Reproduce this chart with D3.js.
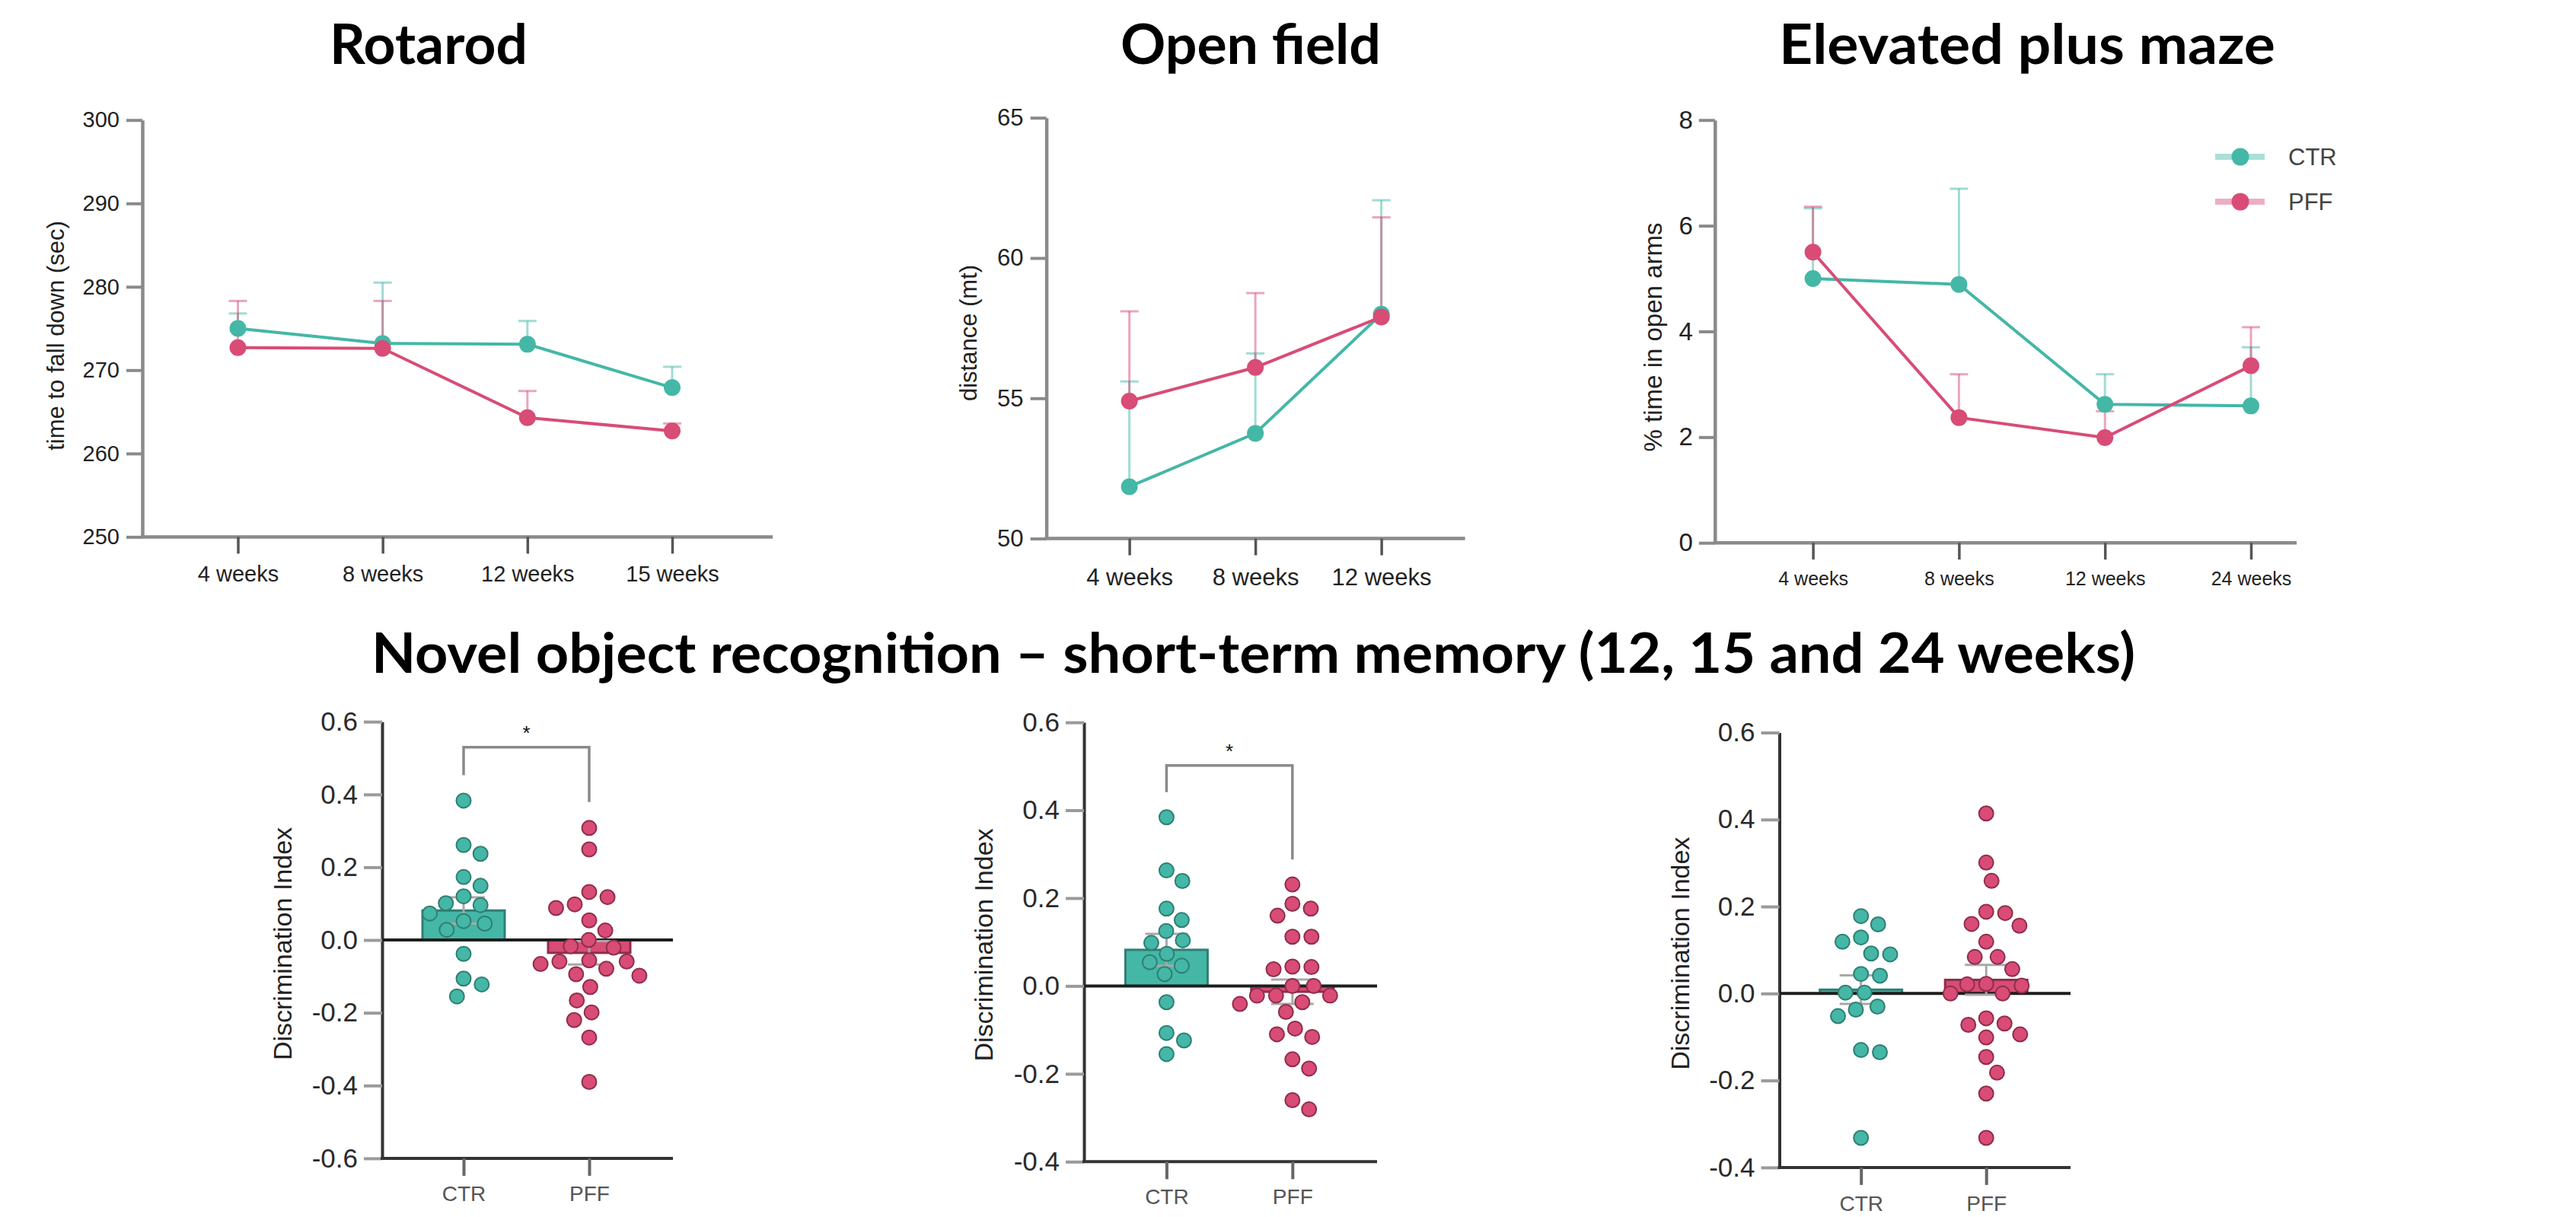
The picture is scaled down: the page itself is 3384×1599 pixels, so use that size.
<!DOCTYPE html>
<html>
<head>
<meta charset="utf-8">
<script src="https://cdn.jsdelivr.net/npm/d3@7"></script>
<style>
  body { margin: 0; background: #fff; }
  svg { display: block; }
</style>
</head>
<body>
<script>
// ---- data ----
const rotarodWeeks = ["4 weeks", "8 weeks", "12 weeks", "15 weeks"];
const rotarodCtr = [275.0, 273.2, 273.1, 267.9];
const rotarodCtrSem = [1.8, 7.3, 2.8, 2.5];
const rotarodPff = [272.7, 272.6, 264.3, 262.7];
const rotarodPffSem = [5.6, 5.7, 3.2, 0.9];
const rotarodTicks = [250, 260, 270, 280, 290, 300];

const openWeeks = ["4 weeks", "8 weeks", "12 weeks"];
const openCtr = [51.85, 53.75, 58.0];
const openCtrSem = [3.75, 2.85, 4.06];
const openPff = [54.9, 56.1, 57.9];
const openPffSem = [3.2, 2.65, 3.55];
const openTicks = [50, 55, 60, 65];

const epmWeeks = ["4 weeks", "8 weeks", "12 weeks", "24 weeks"];
const epmCtr = [5.0, 4.89, 2.62, 2.59];
const epmCtrSem = [1.33, 1.81, 0.57, 1.11];
const epmPff = [5.5, 2.37, 1.99, 3.35];
const epmPffSem = [0.86, 0.82, 0.5, 0.73];
const epmTicks = [0, 2, 4, 6, 8];

const groups = ["CTR", "PFF"];

const nor12Ctr = [0.383, 0.261, 0.237, 0.173, 0.149, 0.120, 0.101, 0.096, 0.073, 0.045, 0.052, 0.028, -0.038, -0.106, -0.122, -0.155];
const nor12Pff = [0.308, 0.249, 0.132, 0.118, 0.098, 0.088, 0.054, 0.026, 0.0, -0.017, -0.021, -0.056, -0.059, -0.059, -0.066, -0.079, -0.094, -0.098, -0.129, -0.166, -0.199, -0.220, -0.268, -0.390];
const nor12Ticks = [-0.6, -0.4, -0.2, 0, 0.2, 0.4, 0.6];
const nor12Bracket = [0.453, 0.53, 0.379];

const nor15Ctr = [0.384, 0.263, 0.239, 0.176, 0.150, 0.125, 0.098, 0.104, 0.073, 0.054, 0.046, 0.027, -0.037, -0.107, -0.124, -0.155];
const nor15Pff = [0.231, 0.187, 0.176, 0.160, 0.112, 0.112, 0.038, 0.044, 0.043, 0.0, 0.0, -0.022, -0.022, -0.022, -0.041, -0.037, -0.059, -0.097, -0.116, -0.110, -0.167, -0.188, -0.260, -0.281];
const nor15Ticks = [-0.4, -0.2, 0, 0.2, 0.4, 0.6];
const nor15Bracket = [0.441, 0.502, 0.288];

const nor24Ctr = [0.178, 0.159, 0.129, 0.119, 0.090, 0.092, 0.041, 0.045, 0.002, 0.002, -0.030, -0.037, -0.052, -0.130, -0.135, -0.332];
const nor24Pff = [0.414, 0.301, 0.259, 0.185, 0.188, 0.160, 0.156, 0.119, 0.084, 0.084, 0.056, 0.021, 0.018, 0.022, 0.0, 0.0, -0.072, -0.069, -0.057, -0.101, -0.094, -0.146, -0.182, -0.230, -0.332];
const nor24Ticks = [-0.4, -0.2, 0, 0.2, 0.4, 0.6];

// ---- styling ----
const teal = "#44b7a7", pink = "#d84c76";
const tealDark = "#2f7e73", pinkDark = "#8f2d4c";
const axisFont = "'Liberation Sans', Arial, sans-serif";
const titleFont = "Lato, 'Open Sans', sans-serif";

const svg = d3.select("body").append("svg")
    .attr("width", 3384)
    .attr("height", 1599);

function title(text, left, baseline, width) {
    svg.append("text")
        .attr("x", left)
        .attr("y", baseline)
        .attr("font-family", titleFont)
        .attr("font-weight", 700)
        .attr("font-size", 72)
        .attr("textLength", width)
        .attr("lengthAdjust", "spacingAndGlyphs")
        .attr("fill", "#000")
        .text(text);
}

function yLabel(text, x, y, size) {
    svg.append("text")
        .attr("transform", `translate(${x},${y}) rotate(-90)`)
        .attr("text-anchor", "middle")
        .attr("dominant-baseline", "central")
        .attr("font-family", axisFont)
        .attr("font-size", size)
        .attr("fill", "#222")
        .text(text);
}

function lineChart(o) {
    const g = svg.append("g");
    const x = d3.scalePoint().domain(o.weeks).range([o.x0, o.x1]);
    const y = d3.scaleLinear().domain(d3.extent(o.ticks)).range([o.yBottom, o.yTop]);

    // axes
    const ya = g.append("g")
        .attr("transform", `translate(${o.axisX},0)`)
        .call(d3.axisLeft(y).tickValues(o.ticks).tickSize(21).tickSizeOuter(0).tickPadding(o.yPad));
    ya.select(".domain").attr("stroke", "#8a8a8a").attr("stroke-width", 4.5);
    ya.selectAll(".tick line").attr("stroke", "#8a8a8a").attr("stroke-width", 4);
    ya.selectAll(".tick text")
        .attr("font-family", axisFont)
        .attr("font-size", o.yFont)
        .attr("fill", "#222");

    g.append("line")
        .attr("x1", o.axisX - 2).attr("x2", o.axisEnd)
        .attr("y1", o.yBottom).attr("y2", o.yBottom)
        .attr("stroke", "#8a8a8a").attr("stroke-width", 4.5);

    const xa = g.append("g")
        .attr("transform", `translate(0,${o.yBottom})`)
        .call(d3.axisBottom(x).tickSize(22).tickPadding(o.xPad));
    xa.select(".domain").remove();
    xa.selectAll(".tick line").attr("stroke", "#555").attr("stroke-width", 3.5);
    xa.selectAll(".tick text")
        .attr("font-family", axisFont)
        .attr("font-size", o.xFont)
        .attr("fill", "#222");

    const series = [
        { vals: o.ctr, sem: o.ctrSem, color: teal },
        { vals: o.pff, sem: o.pffSem, color: pink }
    ];

    // error bars (upper only) behind everything
    series.forEach(s => {
        const pts = o.weeks.map((w, i) => ({ w: w, v: s.vals[i], e: s.sem[i] }));
        const eg = g.append("g")
            .attr("stroke", s.color)
            .attr("stroke-opacity", 0.5)
            .attr("stroke-width", 3);
        eg.selectAll("line.v").data(pts).join("line")
            .attr("class", "v")
            .attr("x1", d => x(d.w)).attr("x2", d => x(d.w))
            .attr("y1", d => y(d.v)).attr("y2", d => y(d.v + d.e));
        eg.selectAll("line.c").data(pts).join("line")
            .attr("class", "c")
            .attr("x1", d => x(d.w) - 12).attr("x2", d => x(d.w) + 12)
            .attr("y1", d => y(d.v + d.e)).attr("y2", d => y(d.v + d.e));
    });

    const line = d3.line()
        .x(d => x(d.w))
        .y(d => y(d.v));

    series.forEach(s => {
        const pts = o.weeks.map((w, i) => ({ w: w, v: s.vals[i] }));
        g.append("path")
            .datum(pts)
            .attr("d", line)
            .attr("fill", "none")
            .attr("stroke", s.color)
            .attr("stroke-width", 4);
        g.append("g").selectAll("circle").data(pts).join("circle")
            .attr("cx", d => x(d.w))
            .attr("cy", d => y(d.v))
            .attr("r", 11)
            .attr("fill", s.color);
    });
}

// simple beeswarm: place each dot as close to the centre as it can go
function swarm(ys, d) {
    const order = d3.range(ys.length).sort((a, b) => ys[a] - ys[b]);
    const dx = new Array(ys.length).fill(0);
    const placed = [];
    order.forEach(i => {
        const yi = ys[i];
        const cands = [0];
        placed.forEach(j => {
            const dy = Math.abs(ys[j] - yi);
            if (dy < d) {
                const h = Math.sqrt(d * d - dy * dy);
                cands.push(dx[j] + h, dx[j] - h);
            }
        });
        cands.sort((a, b) => Math.abs(a) - Math.abs(b));
        const ok = c => placed.every(j => (dx[j] - c) ** 2 + (ys[j] - yi) ** 2 >= d * d - 0.5);
        const found = cands.find(ok);
        dx[i] = found === undefined ? d3.max(cands) + d : found;
        placed.push(i);
    });
    return ys.map((v, i) => ({ y: v, dx: dx[i] }));
}

function dotChart(o) {
    const g = svg.append("g");
    const x = d3.scalePoint().domain(groups).range([o.cx0, o.cx1]);
    const y = d3.scaleLinear().domain(d3.extent(o.ticks)).range([o.yBottom, o.yTop]);

    const sets = [
        { name: "CTR", vals: o.ctr, fill: teal, dark: tealDark },
        { name: "PFF", vals: o.pff, fill: pink, dark: pinkDark }
    ];
    sets.forEach(s => {
        s.mean = d3.mean(s.vals);
        s.sem = d3.deviation(s.vals) / Math.sqrt(s.vals.length);
    });

    // y axis
    const ya = g.append("g")
        .attr("transform", `translate(${o.axisX},0)`)
        .call(d3.axisLeft(y).tickValues(o.ticks).tickSize(24).tickSizeOuter(0)
            .tickPadding(8).tickFormat(d => d.toFixed(1)));
    ya.select(".domain").attr("stroke", "#333").attr("stroke-width", 4);
    ya.selectAll(".tick line").attr("stroke", "#9a9a9a").attr("stroke-width", 4);
    ya.selectAll(".tick text")
        .attr("font-family", axisFont)
        .attr("font-size", 35)
        .attr("fill", "#2a2a2a");

    // x axis
    g.append("line")
        .attr("x1", o.axisX - 2).attr("x2", o.axisEnd)
        .attr("y1", o.yBottom).attr("y2", o.yBottom)
        .attr("stroke", "#333").attr("stroke-width", 4);
    const xa = g.append("g")
        .attr("transform", `translate(0,${o.yBottom})`)
        .call(d3.axisBottom(x).tickSize(23).tickPadding(o.xPad));
    xa.select(".domain").remove();
    xa.selectAll(".tick line").attr("stroke", "#666").attr("stroke-width", 4);
    xa.selectAll(".tick text")
        .attr("font-family", axisFont)
        .attr("font-size", 28)
        .attr("fill", "#555");

    // mean bars
    g.append("g").selectAll("rect").data(sets).join("rect")
        .attr("x", d => x(d.name) - 54)
        .attr("width", 108)
        .attr("y", d => Math.min(y(d.mean), y(0)))
        .attr("height", d => Math.abs(y(d.mean) - y(0)))
        .attr("fill", d => d.fill)
        .attr("stroke", d => d.dark)
        .attr("stroke-width", 3);

    // zero line
    g.append("line")
        .attr("x1", o.axisX).attr("x2", o.axisEnd)
        .attr("y1", y(0)).attr("y2", y(0))
        .attr("stroke", "#1e1e1e").attr("stroke-width", 4);

    // SEM error bars
    sets.forEach(s => {
        const cx = x(s.name);
        const eg = g.append("g").attr("stroke", "#a8a8a8").attr("stroke-width", 3);
        eg.append("line")
            .attr("x1", cx).attr("x2", cx)
            .attr("y1", y(s.mean - s.sem)).attr("y2", y(s.mean + s.sem));
        [s.mean - s.sem, s.mean + s.sem].forEach(v => {
            eg.append("line")
                .attr("x1", cx - 28).attr("x2", cx + 28)
                .attr("y1", y(v)).attr("y2", y(v));
        });
    });

    // individual animals
    sets.forEach(s => {
        const pts = swarm(s.vals.map(v => y(v)), 25);
        g.append("g").selectAll("circle").data(pts).join("circle")
            .attr("cx", p => x(s.name) + p.dx)
            .attr("cy", p => p.y)
            .attr("r", 9.5)
            .attr("fill", s.fill)
            .attr("stroke", s.dark)
            .attr("stroke-width", 2);
    });

    // significance bracket
    if (o.bracket) {
        const [l, t, r] = o.bracket;
        g.append("path")
            .attr("d", `M${x("CTR")},${y(l)}V${y(t)}H${x("PFF")}V${y(r)}`)
            .attr("fill", "none")
            .attr("stroke", "#8a8a8a")
            .attr("stroke-width", 3.5);
        g.append("text")
            .attr("x", (x("CTR") + x("PFF")) / 2)
            .attr("y", y(t) - 10)
            .attr("text-anchor", "middle")
            .attr("font-family", axisFont)
            .attr("font-size", 26)
            .attr("fill", "#111")
            .text("*");
    }
}

// ---- titles ----
title("Rotarod", 433, 84, 260);
title("Open field", 1472, 84, 342);
title("Elevated plus maze", 2337, 84, 652);
title("Novel object recognition \u2013 short-term memory (12, 15 and 24 weeks)", 488, 884, 2317);

// ---- top row ----
lineChart({
    weeks: rotarodWeeks, ctr: rotarodCtr, ctrSem: rotarodCtrSem, pff: rotarodPff, pffSem: rotarodPffSem,
    ticks: rotarodTicks, axisX: 187, axisEnd: 1015, yTop: 157.7, yBottom: 705.4,
    x0: 312.5, x1: 883, yFont: 29, xFont: 29, yPad: 9, xPad: 16
});
yLabel("time to fall down (sec)", 73, 441, 31);

lineChart({
    weeks: openWeeks, ctr: openCtr, ctrSem: openCtrSem, pff: openPff, pffSem: openPffSem,
    ticks: openTicks, axisX: 1374.6, axisEnd: 1924.6, yTop: 154.7, yBottom: 707.6,
    x0: 1483.6, x1: 1814.6, yFont: 31, xFont: 31, yPad: 9, xPad: 17
});
yLabel("distance (mt)", 1272, 437.5, 31);

lineChart({
    weeks: epmWeeks, ctr: epmCtr, ctrSem: epmCtrSem, pff: epmPff, pffSem: epmPffSem,
    ticks: epmTicks, axisX: 2252.8, axisEnd: 3017, yTop: 157.7, yBottom: 713.2,
    x0: 2381.6, x1: 2957, yFont: 33, xFont: 25, yPad: 8, xPad: 16
});
yLabel("% time in open arms", 2171, 443, 33);

// legend
const legend = svg.append("g").selectAll("g")
    .data([{ name: "CTR", color: teal }, { name: "PFF", color: pink }])
    .join("g")
    .attr("transform", (d, i) => `translate(2943,${206 + i * 59})`);
legend.append("line")
    .attr("x1", -33).attr("x2", 32)
    .attr("stroke", d => d.color).attr("stroke-opacity", 0.45).attr("stroke-width", 8);
legend.append("circle").attr("r", 11.5).attr("fill", d => d.color);
legend.append("text")
    .attr("x", 63)
    .attr("dominant-baseline", "central")
    .attr("font-family", axisFont)
    .attr("font-size", 31)
    .attr("fill", "#444")
    .text(d => d.name);

// ---- bottom row ----
dotChart({
    ctr: nor12Ctr, pff: nor12Pff, ticks: nor12Ticks, bracket: nor12Bracket,
    axisX: 502, axisEnd: 884, yTop: 948.2, yBottom: 1521.9, cx0: 609, cx1: 774, xPad: 13
});
yLabel("Discrimination Index", 370.5, 1240, 34);

dotChart({
    ctr: nor15Ctr, pff: nor15Pff, ticks: nor15Ticks, bracket: nor15Bracket,
    axisX: 1424, axisEnd: 1809, yTop: 949.1, yBottom: 1526.3, cx0: 1532.4, cx1: 1697.8, xPad: 13
});
yLabel("Discrimination Index", 1292, 1241.5, 34);

dotChart({
    ctr: nor24Ctr, pff: nor24Pff, ticks: nor24Ticks, bracket: null,
    axisX: 2337.5, axisEnd: 2720, yTop: 962.5, yBottom: 1533.9, cx0: 2444.7, cx1: 2609.2, xPad: 14
});
yLabel("Discrimination Index", 2207, 1252.7, 34);
</script>
</body>
</html>
